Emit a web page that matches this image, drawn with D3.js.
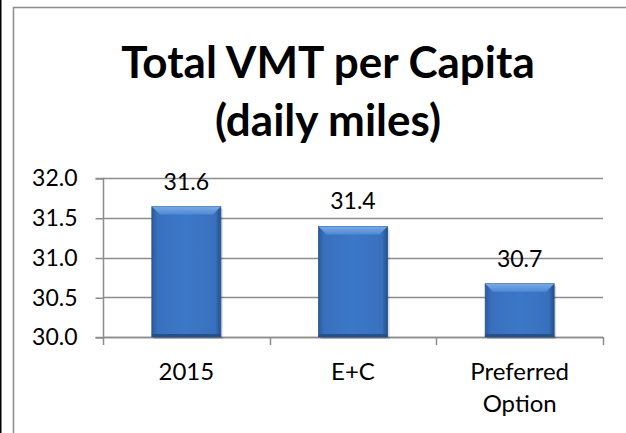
<!DOCTYPE html>
<html lang="en">
	<head>
		<meta charset="utf-8">
		<title>Total VMT per Capita</title>
		<script type="text/javascript" src="https://cdn.jsdelivr.net/npm/d3@7"></script>
		<style type="text/css">
			body { margin: 0; background: white; }
			svg { display: block; }
			text { font-family: Lato, "Open Sans", sans-serif; fill: black; }
		</style>
	</head>
	<body>
		<script type="text/javascript">

			//Width and height
			var w = 626;
			var h = 433;

			//Data
			var categories = ["2015", "E+C", "Preferred Option"];
			var values = [31.64, 31.39, 30.67];
			var yTicks = [30.0, 30.5, 31.0, 31.5, 32.0];
			var titleLines = ["Total VMT per Capita", "(daily miles)"];

			var dataset = categories.map(function(c, i) {
				return { name: c, value: values[i] };
			});

			//Plot area
			var plotLeft = 103, plotRight = 603, plotTop = 178, plotBottom = 337;

			var svg = d3.select("body")
						.append("svg")
						.attr("width", w)
						.attr("height", h);

			svg.append("rect")
				.attr("width", w)
				.attr("height", h)
				.attr("fill", "white");

			//Gradients for the bevelled bars
			var defs = svg.append("defs");
			var side = defs.append("linearGradient")
				.attr("id", "side")
				.attr("x1", 0).attr("x2", 1).attr("y1", 0).attr("y2", 0);
			side.append("stop").attr("offset", "0%").attr("stop-color", "#2a5a9a");
			side.append("stop").attr("offset", "8%").attr("stop-color", "#3870bd");
			side.append("stop").attr("offset", "50%").attr("stop-color", "#3c78c8");
			side.append("stop").attr("offset", "92%").attr("stop-color", "#3870bd");
			side.append("stop").attr("offset", "100%").attr("stop-color", "#234f8a");

			var topBevel = defs.append("linearGradient")
				.attr("id", "topBevel")
				.attr("x1", 0).attr("x2", 0).attr("y1", 0).attr("y2", 1);
			topBevel.append("stop").attr("offset", "0%").attr("stop-color", "#7aaae6");
			topBevel.append("stop").attr("offset", "100%").attr("stop-color", "#4f88d4");

			//Chart frame
			svg.append("line")
				.attr("x1", 0.5).attr("x2", 0.5)
				.attr("y1", 0).attr("y2", h)
				.attr("stroke", "black")
				.attr("stroke-width", 2);

			svg.append("path")
				.attr("d", "M13.5," + h + "V7.5H" + w)
				.attr("fill", "none")
				.attr("stroke", "#8c8c8c")
				.attr("stroke-width", 1.5);

			//Title
			svg.selectAll("text.title")
				.data(titleLines)
				.enter()
				.append("text")
				.attr("class", "title")
				.attr("x", 328)
				.attr("y", function(d, i) { return 78 + i * 58; })
				.attr("text-anchor", "middle")
				.attr("font-size", 44)
				.attr("font-weight", "bold")
				.text(function(d) { return d; });

			//Scales
			var xScale = d3.scaleBand()
				.domain(categories)
				.range([plotLeft, plotRight])
				.paddingInner(0.586)
				.paddingOuter(0.293);

			var yScale = d3.scaleLinear()
				.domain([30, 32])
				.range([plotBottom, plotTop]);

			//Gridlines
			svg.selectAll("line.grid")
				.data(yTicks)
				.enter()
				.append("line")
				.attr("class", "grid")
				.attr("x1", plotLeft)
				.attr("x2", plotRight)
				.attr("y1", function(d) { return Math.round(yScale(d)) + 0.5; })
				.attr("y2", function(d) { return Math.round(yScale(d)) + 0.5; })
				.attr("stroke", "#8c8c8c")
				.attr("stroke-width", 1.5);

			//Y axis
			var yAxis = d3.axisLeft(yScale)
				.tickValues(yTicks)
				.tickSize(8)
				.tickPadding(18)
				.tickFormat(d3.format(".1f"));

			var gy = svg.append("g")
				.attr("transform", "translate(" + (plotLeft + 0.5) + ",0.5)")
				.call(yAxis);
			gy.select(".domain").attr("d", "M-8," + plotTop + "H0V" + plotBottom + "H-8");
			gy.selectAll("path, line").attr("stroke", "#8c8c8c").attr("stroke-width", 1.5);
			gy.selectAll("text")
				.attr("font-size", 23)
				.attr("fill", "black")
				.style("font-family", "Lato, sans-serif");

			//X axis
			var step = xScale.step();
			var bounds = d3.range(categories.length + 1).map(function(i) { return plotLeft + i * step; });

			svg.append("line")
				.attr("x1", plotLeft).attr("x2", plotRight)
				.attr("y1", plotBottom + 0.5).attr("y2", plotBottom + 0.5)
				.attr("stroke", "#8c8c8c")
				.attr("stroke-width", 1.5);

			svg.selectAll("line.xtick")
				.data(bounds)
				.enter()
				.append("line")
				.attr("class", "xtick")
				.attr("x1", function(d) { return Math.round(d) + 0.5; })
				.attr("x2", function(d) { return Math.round(d) + 0.5; })
				.attr("y1", plotBottom)
				.attr("y2", plotBottom + 8)
				.attr("stroke", "#8c8c8c")
				.attr("stroke-width", 1.5);

			//Category labels, wrapped on spaces
			var catLabels = svg.selectAll("text.cat")
				.data(categories)
				.enter()
				.append("text")
				.attr("class", "cat")
				.attr("text-anchor", "middle")
				.attr("font-size", 24)
				.attr("y", 380);

			catLabels.each(function(d) {
				var words = d.split(" ");
				var t = d3.select(this);
				var cx = xScale(d) + xScale.bandwidth() / 2;
				words.forEach(function(word, i) {
					t.append("tspan")
						.attr("x", cx)
						.attr("dy", i === 0 ? 0 : 32)
						.text(word);
				});
			});

			//Bars
			var bars = svg.selectAll("g.bar")
				.data(dataset)
				.enter()
				.append("g")
				.attr("class", "bar");

			//soft shadow
			bars.append("rect")
				.attr("x", function(d) { return xScale(d.name) + 2; })
				.attr("y", function(d) { return yScale(d.value) + 2; })
				.attr("width", xScale.bandwidth())
				.attr("height", function(d) { return plotBottom - yScale(d.value); })
				.attr("fill", "rgba(0,0,0,0.15)");

			bars.append("rect")
				.attr("x", function(d) { return xScale(d.name); })
				.attr("y", function(d) { return yScale(d.value); })
				.attr("width", xScale.bandwidth())
				.attr("height", function(d) { return plotBottom - yScale(d.value); })
				.attr("fill", "url(#side)")
				.attr("stroke", "#2a5590")
				.attr("stroke-width", 0.8);

			//top bevel
			bars.append("path")
				.attr("d", function(d) {
					var x0 = xScale(d.name), x1 = x0 + xScale.bandwidth();
					var y0 = yScale(d.value), b = 8;
					return "M" + x0 + "," + y0 + "H" + x1 + "L" + (x1 - b) + "," + (y0 + b) +
						"H" + (x0 + b) + "Z";
				})
				.attr("fill", "url(#topBevel)");

			//bottom edge
			bars.append("rect")
				.attr("x", function(d) { return xScale(d.name); })
				.attr("y", plotBottom - 3)
				.attr("width", xScale.bandwidth())
				.attr("height", 3)
				.attr("fill", "#24508c");

			//Value labels
			svg.selectAll("text.value")
				.data(dataset)
				.enter()
				.append("text")
				.attr("class", "value")
				.attr("x", function(d) { return xScale(d.name) + xScale.bandwidth() / 2; })
				.attr("y", function(d) { return yScale(d.value) - 17; })
				.attr("text-anchor", "middle")
				.attr("font-size", 23)
				.text(function(d) { return d3.format(".1f")(d.value); });

		</script>
	</body>
</html>
